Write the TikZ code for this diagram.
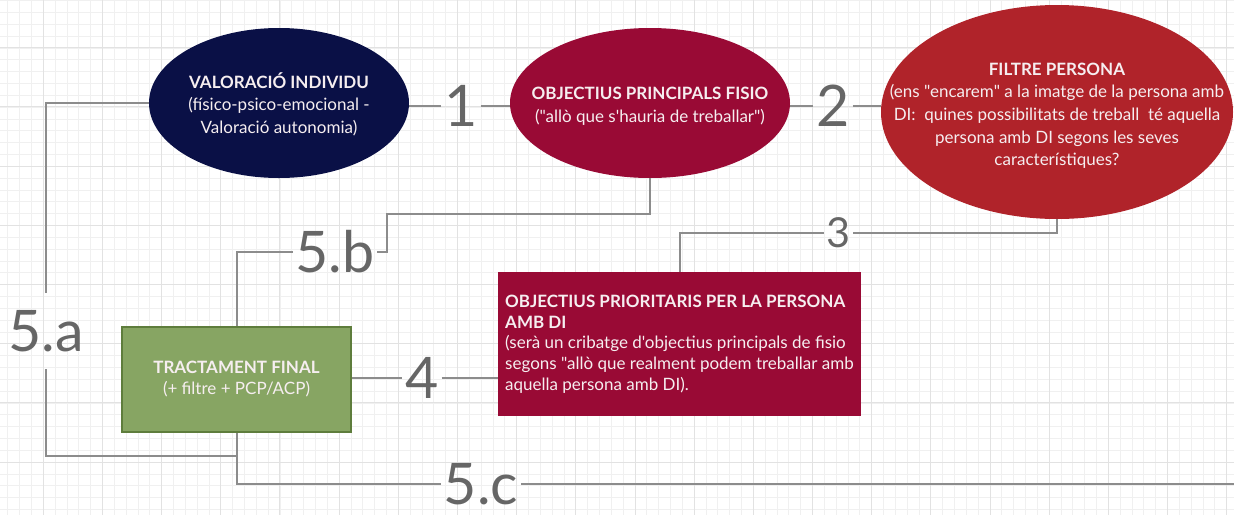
\documentclass[tikz,border=0pt]{standalone}
\usepackage{fontspec}
\setmainfont{Lato}[Ligatures=TeXOff]
\newfontfamily\numfont{Lato}
\usetikzlibrary{shapes.geometric,calc}
\definecolor{navyc}{HTML}{0A1046}
\definecolor{crimc}{HTML}{990A35}
\definecolor{redc}{HTML}{B0232A}
\definecolor{greenf}{HTML}{87A563}
\definecolor{greend}{HTML}{5E7D3C}
\definecolor{linegray}{HTML}{8C8C8C}
\definecolor{numgray}{HTML}{666666}
\definecolor{gridminor}{HTML}{F0F0F0}
\definecolor{gridmajor}{HTML}{E2E2E2}
\definecolor{txtw}{HTML}{F6EEF0}
\tikzset{
  conn/.style={draw=linegray, line width=1.5pt},
  num/.style={font=\numfont\fontsize{43}{43}\selectfont, text=numgray, inner xsep=2pt, inner ysep=0pt},
  ell/.style={ellipse, inner sep=0pt, text=txtw, font=\fontsize{12.75}{17}\selectfont},
  box/.style={rectangle, inner sep=0pt, text=txtw},
}
\begin{document}
\begin{tikzpicture}[x=0.75pt,y=-0.75pt]
\useasboundingbox (0,0) rectangle (1234,515);
\fill[white] (0,0) rectangle (1234,515);
% grid
\foreach \i in {0,...,103} { \draw[gridminor, line width=0.6pt] ({7.8+11.834*\i},0) -- ++(0,515); }
\foreach \j in {0,...,43} { \draw[gridminor, line width=0.6pt] (0,{0.6+11.834*\j}) -- ++(1234,0); }
\foreach \i in {0,...,20} { \draw[gridmajor, line width=0.75pt] ({43.3+59.17*\i},0) -- ++(0,515); }
\foreach \j in {0,...,7} { \draw[gridmajor, line width=0.75pt] (0,{47.8+59.17*\j}) -- ++(1234,0); }

% nodes
\node[ell, fill=navyc, minimum width=195pt, minimum height=112.5pt] (e1) at (279,103)
  {\makebox[0pt]{\raisebox{-2.5pt}[\height][\depth]{\begin{tabular}{@{}c@{}}\textbf{VALORACIÓ INDIVIDU}\\(físico-psico-emocional -\\Valoració autonomia)\end{tabular}}}};
\node[ell, fill=crimc, minimum width=210pt, minimum height=112.5pt] (e2) at (650,103)
  {\makebox[0pt]{\raisebox{-2.5pt}[\height][\depth]{\begin{tabular}{@{}c@{}}\textbf{OBJECTIUS PRINCIPALS FISIO}\\("allò que s'hauria de treballar")\end{tabular}}}};
\node[ell, fill=redc, minimum width=264pt, minimum height=160.5pt] (e3) at (1057,112)
  {\makebox[0pt]{\raisebox{-3pt}[\height][\depth]{\begin{tabular}{@{}c@{}}\textbf{FILTRE PERSONA}\\(ens "encarem" a la imatge de la persona amb\\DI:\ \ quines possibilitats de treball\ \ té aquella\\persona amb DI segons les seves\\característiques?\end{tabular}}}};
\node[box, fill=crimc, minimum width=272.25pt, minimum height=108pt, align=left, font=\fontsize{12.75}{15.5}\selectfont] (r1) at (679.5,344)
  {\textbf{OBJECTIUS PRIORITARIS PER LA PERSONA}\\\textbf{AMB DI}\\(serà un cribatge d'objectius principals de fisio\\segons "allò que realment podem treballar amb\\aquella persona amb DI).};
\node[box, fill=greenf, draw=greend, line width=1.5pt, minimum width=172pt, minimum height=79pt, align=center, font=\fontsize{12.75}{15.75}\selectfont] (r2) at (236.5,379.5)
  {\textbf{TRACTAMENT FINAL}\\(+ filtre + PCP/ACP)};

% labels
\node[num] (n1) at (461,106) {1};
\node[num] (n2) at (833,106) {2};
\node[num, font=\numfont\fontsize{31}{31}\selectfont] (n3) at (838.5,233) {3};
\node[num] (n4) at (422,378) {4};
\node[num] (n5b) at (335,252) {5.b};
\node[num, inner ysep=13pt] (n5a) at (46,331) {5.a};
\node[num] (n5c) at (481,484) {5.c};

\coordinate (k1) at (387,214);
\coordinate (k2) at (236.5,456);
\coordinate (kend) at (1234,484);

% connectors
\draw[conn] (e1.east |- n1.west) -- (n1.west);
\draw[conn] (n1.east) -- (e2.west |- n1.east);
\draw[conn] (e2.east |- n2.west) -- (n2.west);
\draw[conn] (n2.east) -- (e3.west |- n2.east);
\draw[conn] (e3.south) |- (n3.east);
\draw[conn] (n3.west) -| (r1.north);
\draw[conn] (r2.east |- n4.west) -- (n4.west);
\draw[conn] (n4.east) -- (r1.west |- n4.east);
\draw[conn] (e2.south) |- (k1) |- (n5b.east);
\draw[conn] (n5b.west) -| (r2.north);
\draw[conn] (e1.west) -| (n5a.north);
\draw[conn] (n5a.south) |- (k2);
\draw[conn] (r2.south) |- (n5c.west);
\draw[conn] (n5c.east) -- (kend);
\end{tikzpicture}
\end{document}
